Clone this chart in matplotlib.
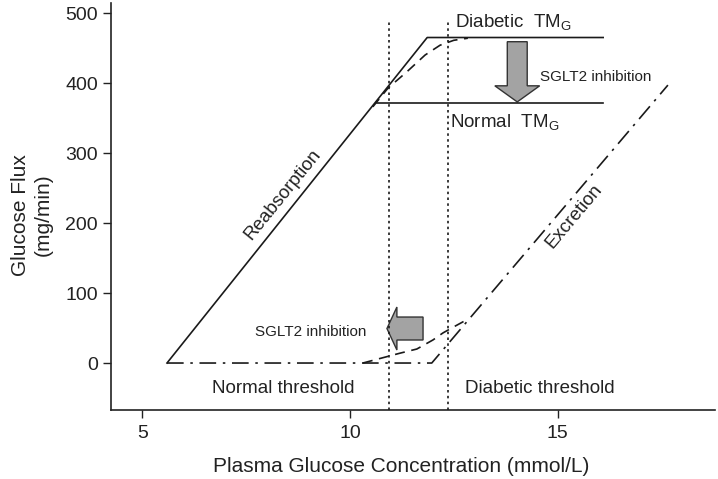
import matplotlib
matplotlib.use("Agg")
import matplotlib.pyplot as plt
from matplotlib.patches import FancyArrow

plt.rcParams['font.family'] = ['Liberation Sans', 'DejaVu Sans']
plt.rcParams['mathtext.fontset'] = 'custom'
plt.rcParams['mathtext.rm'] = 'Liberation Sans'

# Reabsorption (solid): normal kinetics
reab_x = [5.59, 11.86, 16.1]
reab_y = [0, 465, 465]
# Normal TmG line
norm_tm_x = [10.64, 16.1]
norm_tm_y = [372, 372]
# Splay of reabsorption (dashed)
splay_reab_x = [10.55, 10.92, 11.37, 11.81, 12.17, 12.5, 12.84]
splay_reab_y = [366, 393, 416, 440, 454, 461, 464]
# Excretion (dash-dot)
excr_x = [5.59, 11.97, 17.66]
excr_y = [0, 0, 397]
# Splay of excretion (dashed)
splay_excr_x = [10.31, 11.20, 11.61, 12.0, 12.24, 12.48, 12.85]
splay_excr_y = [0, 14, 20, 33, 43, 51, 63]
# Thresholds
thresholds = [10.95, 12.37]

fig = plt.figure(figsize=(7.18, 4.79), dpi=100)
ax = fig.add_axes([111/718, (479-410)/479, (715-111)/718, (410-3)/479])
ax.set_xlim(4.241, 18.795)
ax.set_ylim(-67.1, 514.3)

lc = '#1a1a1a'
ax.plot(reab_x, reab_y, color=lc, lw=1.2)
ax.plot(norm_tm_x, norm_tm_y, color=lc, lw=1.2)
ax.plot(splay_reab_x, splay_reab_y, color=lc, lw=1.2, dashes=(6, 4))
ax.plot(excr_x, excr_y, color=lc, lw=1.2, dashes=(10, 4, 1.5, 4))
ax.plot(splay_excr_x, splay_excr_y, color=lc, lw=1.2, dashes=(6, 4))
for t in thresholds:
    ax.plot([t, t], [-67.1, 490], color=lc, lw=1.2, dashes=(1.5, 2))

# Arrows
ax.add_patch(FancyArrow(14.03, 459, 0, 373 - 459, width=0.48, head_width=1.08,
                        head_length=23, length_includes_head=True,
                        facecolor='#a3a3a3', edgecolor='#333333', lw=1.0))
ax.add_patch(FancyArrow(11.76, 49.3, 10.89 - 11.76, 0, width=32.8, head_width=61.4,
                        head_length=0.24, length_includes_head=True,
                        facecolor='#a3a3a3', edgecolor='#333333', lw=1.0))

fs = 13.5
ax.text(12.53, 486, r'Diabetic  TM$_\mathregular{G}$', fontsize=fs, ha='left', va='center', color='#222')
ax.text(12.41, 343, r'Normal  TM$_\mathregular{G}$', fontsize=fs, ha='left', va='center', color='#222')
ax.text(14.58, 409, 'SGLT2 inhibition', fontsize=11, ha='left', va='center', color='#222')
ax.text(9.06, 44, 'SGLT2 inhibition', fontsize=11, ha='center', va='center', color='#222')
ax.text(8.39, 241, 'Reabsorption', fontsize=fs, rotation=51, rotation_mode='anchor',
        ha='center', va='center', color='#222')
ax.text(15.40, 210, 'Excretion', fontsize=fs, rotation=50, rotation_mode='anchor',
        ha='center', va='center', color='#222')
ax.text(8.40, -36, 'Normal threshold', fontsize=fs, ha='center', va='center', color='#222')
ax.text(14.58, -36, 'Diabetic threshold', fontsize=fs, ha='center', va='center', color='#222')

ax.set_xticks([5, 10, 15])
ax.set_yticks([0, 100, 200, 300, 400, 500])
ax.tick_params(labelsize=14, length=6, width=1.0, colors='#222')
ax.tick_params(axis='y', pad=3.5)
ax.tick_params(axis='x', pad=5)
for s in ['top', 'right']:
    ax.spines[s].set_visible(False)
for s in ['left', 'bottom']:
    ax.spines[s].set_linewidth(1.2)
    ax.spines[s].set_color('#222')

ax.set_xlabel('Plasma Glucose Concentration (mmol/L)', fontsize=15, color='#222', va='center')
ax.xaxis.set_label_coords((401 - 111) / 604, (410 - 467) / 407)
ax.set_ylabel('Glucose Flux\n(mg/min)', fontsize=15, color='#222', va='center')
ax.yaxis.set_label_coords((32 - 111) / 604, (410 - 215) / 407)

fig.savefig('out.png', dpi=100)
